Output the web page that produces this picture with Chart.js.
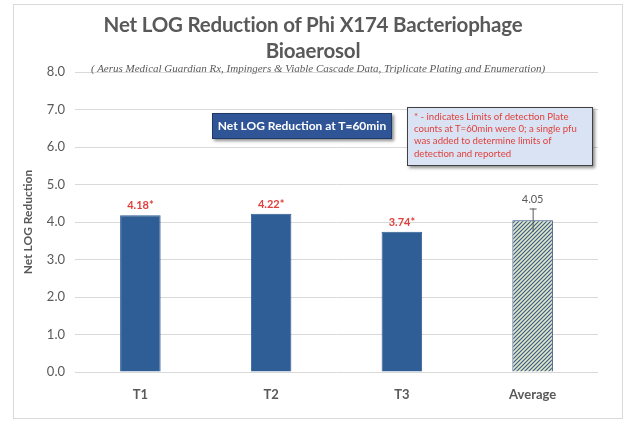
<!DOCTYPE html>
<html>
<head>
<meta charset="utf-8">
<script src="https://cdn.jsdelivr.net/npm/chart.js@4.4.0/dist/chart.umd.min.js"></script>
<style>
html, body { margin: 0; padding: 0; background: #fff; }
#wrap { position: relative; width: 626px; height: 421px; overflow: hidden; }
#frame { position: absolute; left: 13px; top: 4px; width: 610px; height: 415px; border: 1px solid #d9d9d9; box-sizing: border-box; }
#myChart { position: absolute; left: 0; top: 0; }
.title { position: absolute; left: 0; width: 626px; text-align: center; font-family: Lato, sans-serif; font-weight: bold; font-size: 20.5px; letter-spacing: -0.2px; color: #595959; line-height: 25px; }
#sub { position: absolute; left: 0; width: 636px; top: 62px; text-align: center; font-family: "Liberation Serif", serif; font-style: italic; font-size: 11px; color: #595959; }
#box1 { position: absolute; left: 212px; top: 113px; width: 180px; height: 26px; background: #2f5597; border: 1px solid #1f3864; box-sizing: border-box; box-shadow: 2px 2px 3px rgba(0,0,0,0.45); color: #fff; font-family: Lato, sans-serif; font-weight: bold; font-size: 12px; line-height: 24px; text-align: center; }
#box2 { position: absolute; left: 407px; top: 107px; width: 186px; height: 59px; background: #dae3f3; border: 1px solid #404040; box-sizing: border-box; box-shadow: 2px 2px 3px rgba(0,0,0,0.45); color: #e0403c; font-family: Lato, sans-serif; font-size: 9.6px; line-height: 12.2px; padding: 3px 0 0 6px; white-space: nowrap; }
</style>
</head>
<body>
<div id="wrap">
  <div id="frame"></div>
  <canvas id="myChart" width="626" height="421"></canvas>
  <div class="title" style="top:12px">Net LOG Reduction of Phi X174 Bacteriophage</div>
  <div class="title" style="top:38px">Bioaerosol</div>
  <div id="sub">( Aerus Medical Guardian Rx, Impingers &amp; Viable Cascade Data, Triplicate Plating and Enumeration)</div>
  <div id="box1">Net LOG Reduction at T=60min</div>
  <div id="box2">* - indicates Limits of detection Plate<br>counts at T=60min were 0; a single pfu<br>was added to determine limits of<br>detection and reported</div>
</div>
<script>
const categories = ["T1", "T2", "T3", "Average"];
const values = [4.18, 4.22, 3.74, 4.05];
const valueLabels = ["4.18*", "4.22*", "3.74*", "4.05"];
const labelColors = ["#e0403c", "#e0403c", "#e0403c", "#595959"];
const errorValues = [0, 0, 0, 0.31];
const yMin = 0, yMax = 8, yStep = 1;

function makeHatch() {
    const c = document.createElement("canvas");
    c.width = 4; c.height = 4;
    const g = c.getContext("2d");
    g.fillStyle = "#dfe8c9";
    g.fillRect(0, 0, 4, 4);
    g.strokeStyle = "#3a5884";
    g.lineWidth = 1.1;
    g.beginPath();
    g.moveTo(-1, 5); g.lineTo(5, -1);
    g.moveTo(-1, 1); g.lineTo(1, -1);
    g.moveTo(3, 5); g.lineTo(5, 3);
    g.stroke();
    return g.createPattern(c, "repeat");
}

const barLabels = {
    id: "barLabels",
    afterDatasetsDraw(chart) {
        const ctx = chart.ctx;
        const meta = chart.getDatasetMeta(0);
        const y = chart.scales.y;
        ctx.save();
        meta.data.forEach((bar, i) => {
            let top = bar.y;
            if (errorValues[i] > 0) {
                const hi = y.getPixelForValue(values[i] + errorValues[i]);
                const lo = y.getPixelForValue(values[i] - errorValues[i]);
                ctx.strokeStyle = "#595959";
                ctx.lineWidth = 1;
                ctx.beginPath();
                ctx.moveTo(bar.x + 0.5, lo); ctx.lineTo(bar.x + 0.5, hi);
                ctx.moveTo(bar.x - 3, hi + 0.5); ctx.lineTo(bar.x + 4, hi + 0.5);
                ctx.stroke();
                top = hi;
            }
            ctx.fillStyle = labelColors[i];
            ctx.font = (i < 3 ? "bold " : "") + "11px Lato, sans-serif";
            ctx.textAlign = "center";
            ctx.textBaseline = "bottom";
            ctx.fillText(valueLabels[i], bar.x, top - 4);
        });
        ctx.restore();
    }
};

const hatch = makeHatch();

new Chart("myChart", {
    type: "bar",
    data: {
        labels: categories,
        datasets: [{
            data: values,
            backgroundColor: ["#2f5d95", "#2f5d95", "#2f5d95", hatch],
            borderColor: ["#2f5d95", "#2f5d95", "#2f5d95", "#2f4f7f"],
            borderWidth: 1,
            barPercentage: 0.31,
            categoryPercentage: 1
        }]
    },
    options: {
        responsive: false,
        animation: false,
        layout: { padding: { left: 21, right: 28, top: 72, bottom: 16 } },
        plugins: {
            legend: { display: false },
            tooltip: { enabled: false }
        },
        scales: {
            x: {
                grid: { display: false },
                border: { display: false },
                ticks: { color: "#595959", font: { family: "Lato", size: 13, weight: "bold" }, padding: 7 },
                afterFit(s) { s.height = 33; }
            },
            y: {
                min: yMin, max: yMax,
                ticks: {
                    stepSize: yStep,
                    color: "#595959",
                    font: { family: "Lato", size: 13 },
                    padding: 10,
                    callback: v => v.toFixed(1)
                },
                grid: { color: "#d9d9d9", drawTicks: false },
                border: { display: false },
                title: {
                    display: true,
                    text: "Net LOG Reduction",
                    color: "#595959",
                    font: { family: "Lato", size: 12, weight: "bold" },
                    padding: 0
                },
                afterFit(s) { s.width = 54; }
            }
        }
    },
    plugins: [barLabels]
});
</script>
</body>
</html>
